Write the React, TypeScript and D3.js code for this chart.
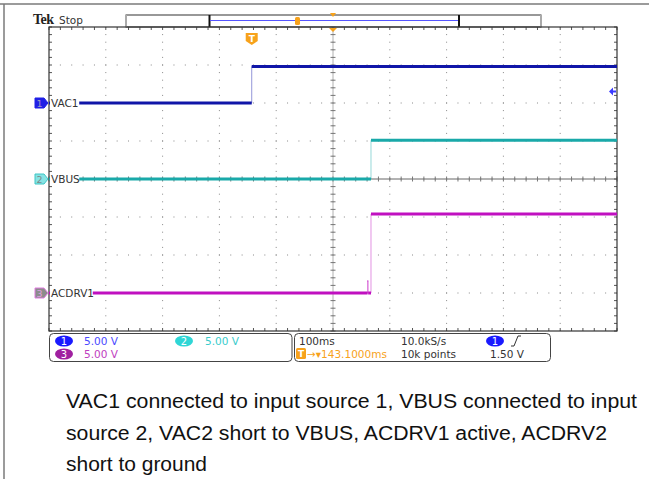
import * as d3 from "d3";

// ---- data (time in ms relative to trigger, volts) ----
const timeRange = [-356.9, 643.1]; // 100 ms/div, 10 div
const vac1Time = [-356.9, 0, 643.1];
const vac1Volt = [0, 4.8, 4.8];
const vbusTime = [-356.9, 210, 643.1];
const vbusVolt = [0, 5.1, 5.1];
const acdrvTime = [-356.9, 204, 205, 210, 643.1];
const acdrvVolt = [0, 1.6, 0, 10.4, 10.4];
const channelNames = ["VAC1", "VBUS", "ACDRV1"];
const channelPos = [2, 0, -3]; // position in divisions
const channelScale = ["5.00 V", "5.00 V", "5.00 V"];
const captionLines = [
  "VAC1 connected to input source 1, VBUS connected to input",
  "source 2, VAC2 short to VBUS, ACDRV1 active, ACDRV2",
  "short to ground",
];
const captionWidths = [571, 541, 141];

const traceColor = ["#1016a8", "#19a9a9", "#c010c0"];
const badgeColor = ["#1a1aff", "#2fd6d6", "#a020a0"];
const textColor = ["#4a4aff", "#3acccc", "#c040c0"];
const orange = "#f7a21b";

export default function App() {
  const W = 649;
  const H = 479;
  const left = 49, right = 617, top = 27, bottom = 331;

  const x = d3.scaleLinear().domain(timeRange).range([left, right]);
  const y = d3.scaleLinear().domain([-4, 4]).range([bottom, top]);
  const cx = x(timeRange[0] + 500);
  const cy = y(0);

  const series = [
    { t: vac1Time, v: vac1Volt },
    { t: vbusTime, v: vbusVolt },
    { t: acdrvTime, v: acdrvVolt },
  ];
  const yv = (ch: number, v: number) => y(v / 5 + channelPos[ch]);

  // minor ticks
  const minorX = d3.range(0, 51).map((k) => x(timeRange[0] + k * 20));
  const minorY = d3.range(0, 41).map((k) => y(-4 + k * 0.2));
  const majorX = d3.range(1, 10).map((k) => x(timeRange[0] + k * 100));
  const majorY = d3.range(-3, 4).map((k) => y(k));

  const line = d3.line<[number, number]>().curve(d3.curveStepAfter);
  const trigY = yv(0, 1.5);

  return (
    <svg width={W} height={H} style={{ position: "absolute", left: 0, top: 0, background: "#fff" }}>
      {/* page frame */}
      <line x1={0} x2={W} y1={4} y2={4} stroke="#7a7a7a" strokeWidth={1.5} />
      <line x1={4} x2={4} y1={4} y2={H} stroke="#7a7a7a" strokeWidth={1.5} />

      {/* header */}
      <text x={33} y={24} fontFamily="Liberation Serif" fontWeight={700} fontSize={14} fill="#222" letterSpacing={-0.5}>Tek</text>
      <text x={59} y={24} fontFamily="DejaVu Sans" fontSize={10.5} fill="#333">Stop</text>
      <rect x={126} y={15} width={415} height={12} fill="#fff" stroke="#333" />
      <line x1={126} x2={126} y1={15} y2={27} stroke="#aaa" strokeWidth={2} />
      <line x1={541} x2={541} y1={15} y2={27} stroke="#aaa" strokeWidth={2} />
      <line x1={209.5} x2={209.5} y1={15} y2={27} stroke="#111" strokeWidth={2} />
      <line x1={459} x2={459} y1={15} y2={27} stroke="#111" strokeWidth={2} />
      <line x1={210} x2={458} y1={20.5} y2={20.5} stroke="#5555ff" strokeWidth={1.2} />
      <rect x={295} y={17} width={5} height={8} rx={1.5} fill={orange} />
      <path d={`M${cx - 3},13 L${cx + 3},13 L${cx},17 Z`} fill={orange} />

      {/* plot grid */}
      <g>
        {majorX.map((gx, i) => (
          <line key={"gx" + i} x1={gx} x2={gx} y1={top} y2={bottom} stroke="#888" strokeWidth={1} strokeDasharray={`1 ${(38 / 5 - 1).toFixed(2)}`} strokeDashoffset={-7.1} />
        ))}
        {majorY.map((gy, i) => (
          <line key={"gy" + i} x1={left} x2={right} y1={gy} y2={gy} stroke="#888" strokeWidth={1} strokeDasharray={`1 ${(56.8 / 5 - 1).toFixed(2)}`} strokeDashoffset={-10.86} />
        ))}
        {/* center crosshair */}
        <line x1={cx} x2={cx} y1={top} y2={bottom} stroke="#b0b0b0" />
        <line x1={left} x2={right} y1={cy} y2={cy} stroke="#666" />
        {minorY.map((ty, i) => (
          <g key={"ty" + i}>
            <line x1={left} x2={left + 3} y1={ty} y2={ty} stroke="#555" />
            <line x1={right - 3} x2={right} y1={ty} y2={ty} stroke="#555" />
            <line x1={cx - 2.5} x2={cx + 2.5} y1={ty} y2={ty} stroke="#777" />
          </g>
        ))}
        {minorX.map((tx, i) => (
          <g key={"tx" + i}>
            <line x1={tx} x2={tx} y1={top} y2={top + 3} stroke="#555" />
            <line x1={tx} x2={tx} y1={bottom - 3} y2={bottom} stroke="#555" />
            <line x1={tx} x2={tx} y1={cy - 2.5} y2={cy + 2.5} stroke="#777" />
          </g>
        ))}
        <rect x={left} y={top} width={right - left} height={bottom - top} fill="none" stroke="#333" strokeWidth={1.2} />
      </g>

      {/* traces */}
      {series.map((s, ch) => {
        const pts: [number, number][] = s.t.map((t, i) => [x(t), yv(ch, s.v[i])]);
        return (
          <g key={"tr" + ch}>
            <path d={line(pts) || ""} fill="none" stroke={traceColor[ch]} strokeOpacity={0.45} strokeWidth={1} />
            {pts.slice(0, -1).map((p, i) => (
              <line key={i} x1={p[0]} x2={pts[i + 1][0]} y1={p[1]} y2={p[1]} stroke={traceColor[ch]} strokeWidth={s.t[i + 1] - s.t[i] < 3 ? 1 : 3} />
            ))}
          </g>
        );
      })}

      {/* channel labels / markers */}
      {channelNames.map((name, ch) => {
        const gy = y(channelPos[ch]);
        const fill = ["#2020e6", "#86e3e3", "#8c8c8c"][ch];
        const stroke = ["#2020e6", "#3fc6c6", "#e07ae0"][ch];
        const num = ["#9a9ac8", "#7a8a8a", "#e0a0e0"][ch];
        return (
          <g key={"lab" + ch}>
            <path d={`M35,${gy - 5} L44,${gy - 5} L48,${gy} L44,${gy + 5} L35,${gy + 5} Z`} fill={fill} stroke={stroke} strokeWidth={1} />
            <text x={39.5} y={gy + 4} textAnchor="middle" fontFamily="DejaVu Sans" fontSize={9.5} fill={num}>{ch + 1}</text>
            <rect x={50} y={gy - 6} width={name.length * 6.8 + 2} height={12} fill="#fff" />
            <text x={51} y={gy + 4} fontFamily="DejaVu Sans" fontSize={10.5} fill="#333">{name}</text>
          </g>
        );
      })}

      {/* trigger markers */}
      <path d={`M${cx - 4},${top + 1} L${cx + 4},${top + 1} L${cx},${top + 5} Z`} fill={orange} />
      <g transform={`translate(${x(0)},0)`}>
        <path d="M-6,33 L6,33 L6,41 L0,45 L-6,41 Z" fill={orange} />
        <text x={0} y={42} textAnchor="middle" fontFamily="DejaVu Sans" fontWeight={700} fontSize={9} fill="#fff">T</text>
      </g>
      <path d={`M${right - 8},${trigY} L${right - 4},${trigY - 4} L${right - 4},${trigY - 1} L${right - 1},${trigY - 1} L${right - 1},${trigY + 1} L${right - 4},${trigY + 1} L${right - 4},${trigY + 4} Z`} fill="#3a3aff" />

      {/* readout boxes */}
      <rect x={49.5} y={333.5} width={242.5} height={28} rx={4} fill="#fff" stroke="#444" />
      <rect x={294.5} y={333.5} width={256} height={28} rx={4} fill="#fff" stroke="#444" />
      {[
        { cxB: 64, cyB: 341, ch: 0, tx: 84 },
        { cxB: 184, cyB: 341, ch: 1, tx: 205 },
        { cxB: 64, cyB: 354, ch: 2, tx: 84 },
      ].map((b) => (
        <g key={"rb" + b.ch}>
          <ellipse cx={b.cxB} cy={b.cyB} rx={9} ry={5.5} fill={badgeColor[b.ch]} />
          <text x={b.cxB} y={b.cyB + 4} textAnchor="middle" fontFamily="DejaVu Sans" fontSize={10} fill="#fff">{b.ch + 1}</text>
          <text x={b.tx} y={b.cyB + 4} fontFamily="DejaVu Sans" fontSize={10.5} fill={textColor[b.ch]}>{channelScale[b.ch]}</text>
        </g>
      ))}
      <text x={299} y={345} fontFamily="DejaVu Sans" fontSize={10.5} fill="#333">100ms</text>
      <text x={401} y={345} fontFamily="DejaVu Sans" fontSize={10.5} fill="#333">10.0kS/s</text>
      <text x={401} y={358} fontFamily="DejaVu Sans" fontSize={10.5} fill="#333">10k points</text>
      <ellipse cx={495} cy={341} rx={9} ry={5.5} fill={badgeColor[0]} />
      <text x={495} y={345} textAnchor="middle" fontFamily="DejaVu Sans" fontSize={10} fill="#fff">1</text>
      <path d="M511,346 L514,346 L518,336 L521,336" fill="none" stroke="#333" strokeWidth={1} />
      <text x={490} y={358} fontFamily="DejaVu Sans" fontSize={10.5} fill="#333">1.50 V</text>
      <rect x={296} y={348} width={10} height={11} rx={1.5} fill={orange} />
      <text x={301} y={357} textAnchor="middle" fontFamily="DejaVu Sans" fontWeight={700} fontSize={9} fill="#fff">T</text>
      <text x={307} y={358} fontFamily="DejaVu Sans" fontSize={10.5} fill={orange}>→▾143.1000ms</text>

      {/* caption */}
      {captionLines.map((s, i) => (
        <text key={"cap" + i} x={66} y={408 + i * 31.7} fontFamily="'Liberation Sans', Arial, sans-serif" fontSize={19.5} fill="#111" textLength={captionWidths[i]} lengthAdjust="spacingAndGlyphs">{s}</text>
      ))}
    </svg>
  );
}
